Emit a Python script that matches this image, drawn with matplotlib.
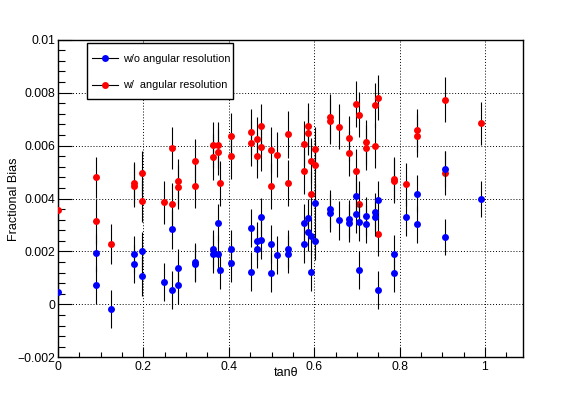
import matplotlib
matplotlib.use('Agg')
import matplotlib.pyplot as plt
from matplotlib.lines import Line2D
from matplotlib.patches import Rectangle
from matplotlib.ticker import MultipleLocator, FixedLocator, FixedFormatter

plt.rcParams['font.family'] = ['Liberation Sans', 'DejaVu Sans']

# without angular resolution (values in units of 1e-3)
x_blue = [0.000, 0.088, 0.088, 0.123, 0.177, 0.177, 0.197, 0.197, 0.249, 0.268,
          0.268, 0.282, 0.282, 0.320, 0.320, 0.364, 0.364, 0.375, 0.375, 0.379,
          0.404, 0.404, 0.452, 0.452, 0.467, 0.467, 0.475, 0.475, 0.498, 0.498,
          0.514, 0.538, 0.538, 0.577, 0.577, 0.585, 0.585, 0.592, 0.592, 0.603,
          0.603, 0.636, 0.636, 0.659, 0.682, 0.682, 0.699, 0.699, 0.705, 0.705,
          0.721, 0.721, 0.742, 0.742, 0.749, 0.749, 0.788, 0.788, 0.816, 0.841,
          0.841, 0.907, 0.907, 0.990]
y_blue = [0.45, 1.94, 0.72, -0.16, 1.89, 1.53, 2.01, 1.06, 0.84, 2.83,
          0.55, 1.37, 0.73, 1.60, 1.54, 2.08, 1.91, 3.07, 1.91, 1.31,
          2.10, 1.57, 2.87, 1.23, 2.40, 2.08, 3.31, 2.43, 2.29, 1.18,
          1.86, 2.10, 1.91, 3.09, 2.28, 3.25, 2.73, 2.57, 1.22, 3.84,
          2.38, 3.62, 3.45, 3.17, 3.22, 3.06, 4.11, 3.40, 3.11, 1.31,
          3.32, 3.04, 3.50, 3.30, 3.94, 0.53, 1.91, 1.18, 3.30, 4.18,
          3.03, 5.12, 2.54, 3.97]
err_blue = [0.72, 0.73, 0.72, 0.72, 0.70, 0.73, 0.72, 0.74, 0.72, 0.73,
            0.72, 0.73, 0.72, 0.73, 0.70, 0.72, 0.72, 0.72, 0.72, 0.72,
            0.72, 0.72, 0.72, 0.73, 0.72, 0.72, 0.72, 0.72, 0.72, 0.72,
            0.72, 0.72, 0.72, 0.72, 0.72, 0.72, 0.72, 0.72, 0.72, 0.72,
            0.72, 0.72, 0.72, 0.72, 0.72, 0.72, 0.72, 0.72, 0.72, 0.72,
            0.72, 0.72, 0.72, 0.72, 0.72, 0.72, 0.70, 0.70, 0.70, 0.70,
            0.70, 0.67, 0.67, 0.68]

# with angular resolution
x_red = [0.000, 0.088, 0.088, 0.123, 0.177, 0.177, 0.197, 0.197, 0.249, 0.268,
         0.268, 0.282, 0.282, 0.320, 0.320, 0.364, 0.364, 0.375, 0.375, 0.379,
         0.404, 0.404, 0.452, 0.452, 0.467, 0.467, 0.475, 0.475, 0.498, 0.498,
         0.514, 0.538, 0.538, 0.577, 0.577, 0.585, 0.585, 0.592, 0.592, 0.603,
         0.603, 0.636, 0.636, 0.659, 0.682, 0.682, 0.699, 0.699, 0.705, 0.705,
         0.721, 0.721, 0.742, 0.742, 0.749, 0.749, 0.788, 0.788, 0.816, 0.841,
         0.841, 0.907, 0.907, 0.990]
y_red = [3.58, 4.80, 3.14, 2.28, 4.59, 4.49, 4.97, 3.91, 3.85, 5.91,
         3.79, 4.65, 4.43, 5.40, 4.48, 6.03, 5.56, 6.03, 5.75, 4.58,
         6.38, 5.60, 6.52, 6.09, 6.23, 5.62, 6.73, 5.94, 5.84, 4.47,
         5.65, 6.42, 4.58, 6.06, 5.03, 6.75, 6.48, 5.43, 4.18, 5.87,
         5.28, 7.07, 6.92, 6.72, 6.28, 5.71, 7.57, 5.03, 7.16, 3.80,
         6.13, 5.91, 7.53, 6.00, 7.80, 2.67, 4.73, 4.65, 4.53, 6.57,
         6.38, 7.74, 4.96, 6.84]
err_red = [0.78, 0.78, 0.86, 0.77, 0.78, 0.80, 0.82, 0.80, 0.80, 0.79,
           0.78, 0.84, 0.82, 0.86, 0.83, 0.86, 0.86, 0.86, 0.86, 0.85,
           0.86, 0.88, 0.87, 0.87, 0.85, 0.85, 0.85, 0.90, 0.86, 0.88,
           0.85, 0.88, 0.87, 0.85, 0.85, 0.85, 0.85, 0.85, 0.85, 0.85,
           0.85, 0.86, 0.85, 0.85, 0.85, 0.85, 0.86, 0.85, 0.85, 0.85,
           0.85, 0.85, 0.85, 0.85, 0.85, 0.86, 0.83, 0.83, 0.83, 0.83,
           0.83, 0.84, 0.84, 0.81]

y_ticks = [-0.002, 0, 0.002, 0.004, 0.006, 0.008, 0.01]
y_tick_labels = ['\u22120.002', '0', '0.002', '0.004', '0.006', '0.008', '0.01']
x_ticks = [0, 0.2, 0.4, 0.6, 0.8, 1]
x_tick_labels = ['0', '0.2', '0.4', '0.6', '0.8', '1']

W, H = 581, 397
fig = plt.figure(figsize=(5.81, 3.97), dpi=100)
ax = fig.add_axes([0.1, 0.1, 0.8, 0.8])

s = 1e-3
ax.errorbar(x_red, [v * s for v in y_red], yerr=[e * s for e in err_red],
            fmt='o', color='red', ms=5, mew=0, ecolor='black', elinewidth=0.8,
            capsize=2.5, capthick=0.8, zorder=3)
ax.errorbar(x_blue, [v * s for v in y_blue], yerr=[e * s for e in err_blue],
            fmt='o', color='blue', ms=5, mew=0, ecolor='black', elinewidth=0.8,
            capsize=2.5, capthick=0.8, zorder=4)

ax.set_xlim(0, 1.089)
ax.set_ylim(-0.002, 0.01)

ax.xaxis.set_major_locator(FixedLocator(x_ticks))
ax.xaxis.set_major_formatter(FixedFormatter(x_tick_labels))
ax.xaxis.set_minor_locator(MultipleLocator(0.05))
ax.yaxis.set_major_locator(FixedLocator(y_ticks))
ax.yaxis.set_major_formatter(FixedFormatter(y_tick_labels))
ax.yaxis.set_minor_locator(MultipleLocator(0.0004))

ax.tick_params(which='both', direction='in', top=False, right=False,
               labelsize=8.8, width=0.8, colors='black')
ax.tick_params(axis='x', which='major', length=7, pad=3)
ax.tick_params(axis='x', which='minor', length=3.5)
ax.tick_params(axis='y', which='major', length=10, pad=2)
ax.tick_params(axis='y', which='minor', length=5)

ax.grid(True, which='major', color='black', linestyle=(0, (1, 2)), linewidth=0.7)
ax.set_axisbelow(True)
for sp in ax.spines.values():
    sp.set_linewidth(1.0)

fig.text(286.5 / W, 1 - 373 / H, 'tan\u03b8', ha='center', va='center', fontsize=9)
fig.text(14 / W, 1 - 199 / H, 'Fractional Bias', ha='center', va='center',
         rotation=90, fontsize=9)

# legend box drawn by hand, entries placed inside it
box = Rectangle((87.3 / W, 1 - 99 / H), (232.7 - 87.3) / W, (99 - 43.3) / H,
                transform=fig.transFigure, facecolor='white', edgecolor='black',
                linewidth=1.0, zorder=10)
fig.patches.append(box)
handles = [Line2D([], [], color='black', lw=0.8, marker='o', ms=5, mew=0, mfc='blue'),
           Line2D([], [], color='black', lw=0.8, marker='o', ms=5, mew=0, mfc='red')]
leg = fig.legend(handles, ['w/o angular resolution', 'w/  angular resolution'],
                 loc='center left', bbox_to_anchor=(91.7 / W, 1 - 72 / H),
                 fontsize=7.8, frameon=False, borderaxespad=0, borderpad=0,
                 handlelength=2.45, handletextpad=0.4, labelspacing=1.55)
leg.set_zorder(11)

fig.savefig('out.png', dpi=100)
